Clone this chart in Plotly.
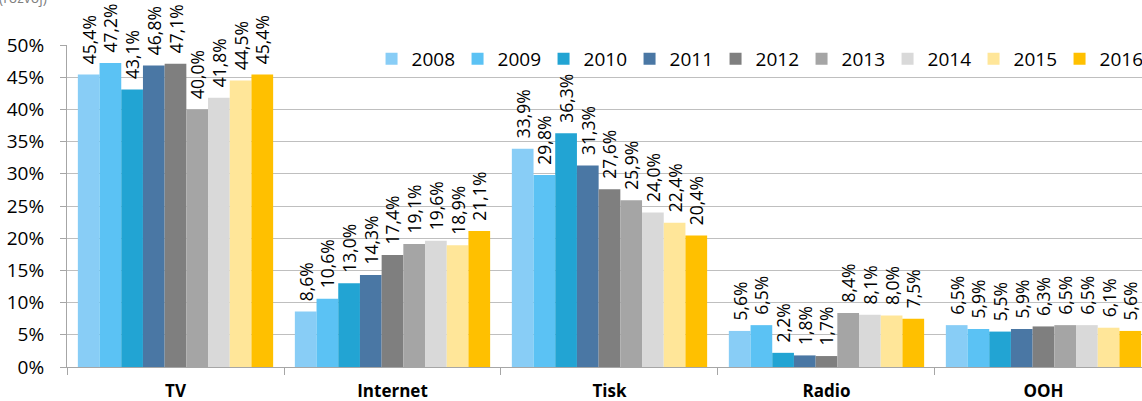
import plotly.graph_objects as go

categories = ["TV", "Internet", "Tisk", "Radio", "OOH"]
years = ["2008", "2009", "2010", "2011", "2012", "2013", "2014", "2015", "2016"]
colors = ["#88CDF6", "#5BC2F4", "#22A4D3", "#4A77A4", "#7F7F7F", "#A5A5A5", "#D9D9D9", "#FFE699", "#FFC000"]

v2008 = [45.4, 8.6, 33.9, 5.6, 6.5]
v2009 = [47.2, 10.6, 29.8, 6.5, 5.9]
v2010 = [43.1, 13.0, 36.3, 2.2, 5.5]
v2011 = [46.8, 14.3, 31.3, 1.8, 5.9]
v2012 = [47.1, 17.4, 27.6, 1.7, 6.3]
v2013 = [40.0, 19.1, 25.9, 8.4, 6.5]
v2014 = [41.8, 19.6, 24.0, 8.1, 6.5]
v2015 = [44.5, 18.9, 22.4, 8.0, 6.1]
v2016 = [45.4, 21.1, 20.4, 7.5, 5.6]
series = [v2008, v2009, v2010, v2011, v2012, v2013, v2014, v2015, v2016]

FONT = "Open Sans"
fig = go.Figure()
for yr, vals, col in zip(years, series, colors):
    fig.add_trace(go.Bar(
        name=yr, x=categories, y=[v / 100 for v in vals],
        marker=dict(color=col, line=dict(width=0)),
        text=["\u00a0\u2009" + f"{v:.1f}%".replace(".", ",") for v in vals],
        textposition="outside", textangle=-90,
        textfont=dict(family=FONT, size=17.5, color="#000000"),
        cliponaxis=False, constraintext="none",
    ))

fig.update_layout(
    width=1142, height=401,
    margin=dict(l=67, r=0, t=45, b=34, autoexpand=False),
    paper_bgcolor="white", plot_bgcolor="white",
    barmode="group", bargap=0.1, bargroupgap=0,
    font=dict(family=FONT, color="#000000"),
    legend=dict(orientation="h", x=0.2833, xanchor="left", y=1.0155, yanchor="top",
                bgcolor="rgba(0,0,0,0)", font=dict(family=FONT, size=19, color="#000000"),
                traceorder="normal", entrywidth=41, entrywidthmode="pixels"),
    showlegend=True,
)

fig.update_xaxes(
    type="category", range=[-0.5, 4.454],
    showline=True, linecolor="#A6A6A6", linewidth=1,
    ticks="outside", tickson="boundaries", ticklen=7, tickcolor="#A6A6A6",
    tickfont=dict(family=FONT, size=17, color="#000000", weight="bold"),
    ticklabelstandoff=9,
    showgrid=False, zeroline=False,
)
fig.update_yaxes(
    range=[0, 0.5], dtick=0.05, tickformat=".0%",
    showline=True, linecolor="#A6A6A6", linewidth=1,
    ticks="outside", ticklen=6, tickcolor="#A6A6A6",
    tickfont=dict(family=FONT, size=19, color="#000000"),
    ticklabelstandoff=12,
    showgrid=True, gridcolor="#BFBFBF", gridwidth=1, zeroline=False,
)
fig.update_layout(
    annotations=[dict(text="(rozvoj)", xref="paper", yref="paper", x=0, y=1,
                      xanchor="left", yanchor="bottom", xshift=-70, yshift=36,
                      showarrow=False, font=dict(family=FONT, size=14, color="#7F7F7F"))]
)

fig.write_html("out.html")
